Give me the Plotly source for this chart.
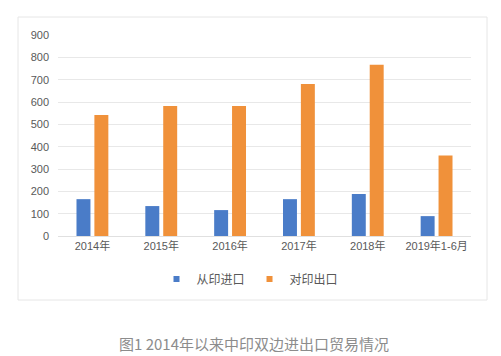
import plotly.graph_objects as go

categories = ["2014年", "2015年", "2016年", "2017年", "2018年", "2019年1-6月"]
imports_from_india = [165, 134, 116, 165, 188, 89]
exports_to_india = [542, 582, 582, 681, 767, 360]
y_ticks = [0, 100, 200, 300, 400, 500, 600, 700, 800, 900]
caption = "图1 2014年以来中印双边进出口贸易情况"
series_names = ["从印进口", "对印出口"]
series_colors = ["#4A7CC8", "#F0913A"]

FONT = "Liberation Sans, Arial, Noto Sans CJK SC, sans-serif"

# page has an 8px body margin: page coords = figure coords + 8
OFF = 8
W, H = 501 - OFF, 356 - OFF
L = 58 - OFF
T = 35 - OFF
B = H - (236 - OFF)
R = W - (471 - OFF)
pw = W - L - R
ph = H - T - B

def px(x):
    return (x - OFF - L) / pw

def py(y):
    return (H - B - (y - OFF)) / ph

fig = go.Figure()
for name, vals, col in zip(series_names, [imports_from_india, exports_to_india], series_colors):
    fig.add_trace(go.Bar(name=name, x=categories, y=vals, showlegend=False,
                         marker=dict(color=col, line=dict(width=0))))
for name, col in zip(series_names, series_colors):
    fig.add_trace(go.Scatter(name=name, x=[None], y=[None], mode="markers",
                             marker=dict(symbol="square", size=6, color=col)))

fig.update_layout(
    width=W, height=H,
    margin=dict(l=L, r=R, t=T, b=B, autoexpand=False),
    paper_bgcolor="white", plot_bgcolor="white",
    barmode="group", bargap=0.48, bargroupgap=0.22,
    font=dict(family=FONT, size=11, color="#595959"),
    showlegend=True,
    legend=dict(orientation="h", x=px(250), y=py(279), xanchor="center", yanchor="middle",
                font=dict(size=12, color="#595959"), itemwidth=30,
                bgcolor="rgba(0,0,0,0)", tracegroupgap=0),
    xaxis=dict(showgrid=False, showline=True, linecolor="#E0E0E0", linewidth=1,
               ticks="", tickfont=dict(size=11, color="#595959")),
    yaxis=dict(range=[0, 900], tickvals=y_ticks, showgrid=True, gridcolor="#E8E8E8",
               gridwidth=1, zeroline=False, showline=False, ticks="",
               ticklabelstandoff=8, tickfont=dict(size=11, color="#595959")),
)

fig.add_shape(type="rect", xref="paper", yref="paper",
              x0=px(18), x1=px(487), y0=py(300), y1=py(17),
              line=dict(color="#E6E6E6", width=1), fillcolor="rgba(0,0,0,0)", layer="below")

fig.add_annotation(text=caption, xref="paper", yref="paper", x=px(254), y=py(343),
                   xanchor="center", yanchor="middle", showarrow=False,
                   font=dict(family="Noto Sans CJK SC, sans-serif", size=15, color="#8C8C8C"))

fig.write_html("out.html")
